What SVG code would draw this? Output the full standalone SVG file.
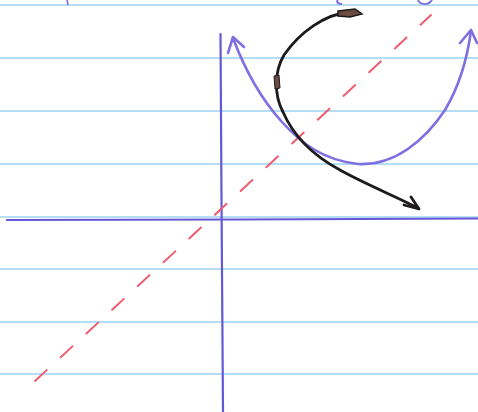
<svg xmlns="http://www.w3.org/2000/svg" width="478" height="412" viewBox="0 0 478 412">
<style>
.rule{stroke:#9dd3f0;stroke-width:1.6;fill:none}
.axis{stroke:#6558d8;stroke-width:2.2;fill:none;stroke-linecap:round}
.para{stroke:#7f6fe2;stroke-width:2.6;fill:none;stroke-linecap:round;stroke-linejoin:round}
.ink{stroke:#1c1a1a;stroke-width:2.8;fill:none;stroke-linecap:round;stroke-linejoin:round}
.red{stroke:#ef5b6e;stroke-width:2;fill:none;stroke-dasharray:16 19;stroke-linecap:round}
</style>
<rect width="478" height="412" fill="#ffffff"/>
<g id="paper">
<line class="rule" x1="0" y1="5" x2="478" y2="5"/>
<line class="rule" x1="0" y1="58" x2="478" y2="58"/>
<line class="rule" x1="0" y1="111" x2="478" y2="111"/>
<line class="rule" x1="0" y1="164" x2="478" y2="164"/>
<line class="rule" x1="0" y1="217" x2="478" y2="217"/>
<line class="rule" x1="0" y1="269" x2="478" y2="269"/>
<line class="rule" x1="0" y1="322" x2="478" y2="322"/>
<line class="rule" x1="0" y1="374" x2="478" y2="374"/>
</g>
<g id="axes">
<path class="axis" d="M220.5 34 L221.5 200 L223 412"/>
<path class="axis" d="M7 220 L240 219.5 L478 218.5"/>
</g>
<g id="diagonal">
<line class="red" x1="35" y1="381" x2="431" y2="15"/>
</g>
<g id="parabola">
<path class="para" d="M233 38 C245 70 262 100 282 122 C300 142 322 160 358 164 C395 166 425 140 445 110 C460 85 467 60 471 31"/>
<path class="para" d="M228 53 L233 37 L244 47"/>
<path class="para" d="M460 43 L471 30 L477 43"/>
</g>
<g id="curve-arrow">
<path class="ink" d="M350 12 C325 14 300 32 284 55 C274 72 274 95 283 112 C293 135 312 155 340 170 C365 184 395 196 418 208"/>
<path class="ink" d="M404 205 L419 209 L411 197" stroke-width="2.2"/>
<path d="M338 11 L355 9 L362 14 L350 17 L338 16 Z" fill="#6b4a40" stroke="#1c1a1a" stroke-width="1.5"/>
<path d="M274 76 L279 75 L280 88 L275 89 Z" fill="#6b4a40" stroke="#1c1a1a" stroke-width="1"/>
</g>
<g id="marks">
<path d="M338 0 C336 2 338 4 342 4" stroke="#7f6fe2" stroke-width="2" fill="none"/>
<path d="M418 0 C420 5 428 6 432 0" stroke="#7f6fe2" stroke-width="2" fill="none"/>
<path d="M67 0 L68 5" stroke="#6f63dc" stroke-width="1.5"/>
</g>
</svg>
